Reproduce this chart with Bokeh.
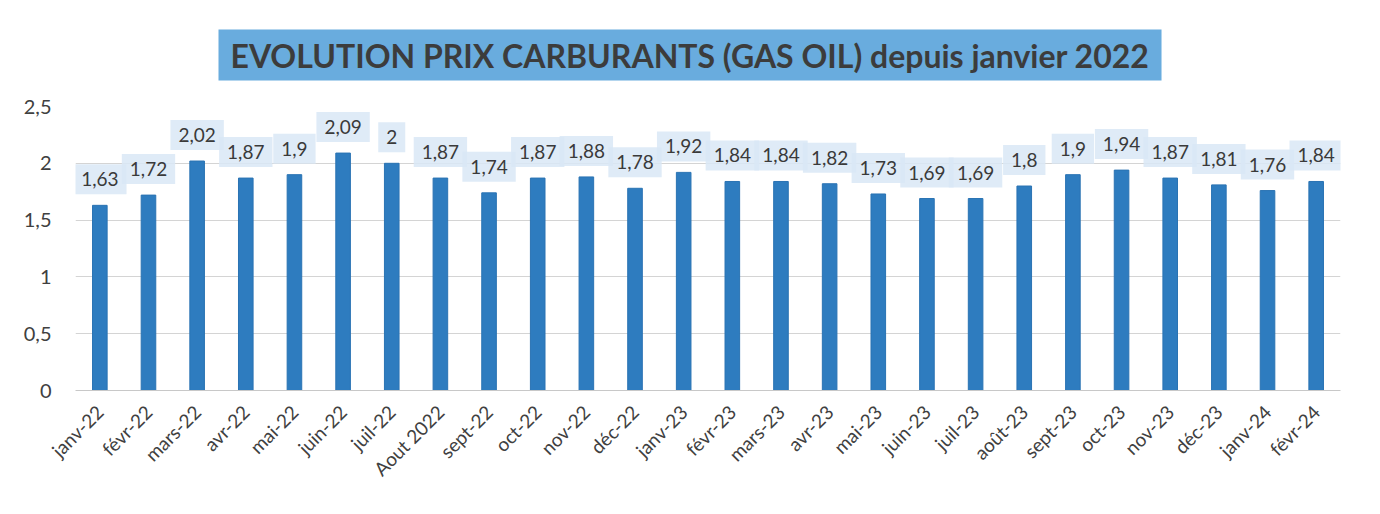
import math
from bokeh.plotting import figure
from bokeh.models import ColumnDataSource, CustomJSTickFormatter, FactorRange
from bokeh.core.properties import value
from bokeh.embed import file_html
from bokeh.resources import INLINE

title_text = "EVOLUTION PRIX CARBURANTS (GAS OIL) depuis janvier 2022"
months = ["janv-22", "févr-22", "mars-22", "avr-22", "mai-22", "juin-22", "juil-22",
          "Aout 2022", "sept-22", "oct-22", "nov-22", "déc-22", "janv-23", "févr-23",
          "mars-23", "avr-23", "mai-23", "juin-23", "juil-23", "août-23", "sept-23",
          "oct-23", "nov-23", "déc-23", "janv-24", "févr-24"]
prices = [1.63, 1.72, 2.02, 1.87, 1.9, 2.09, 2, 1.87, 1.74, 1.87, 1.88, 1.78, 1.92,
          1.84, 1.84, 1.82, 1.73, 1.69, 1.69, 1.8, 1.9, 1.94, 1.87, 1.81, 1.76, 1.84]
y_ticks = [0, 0.5, 1, 1.5, 2, 2.5]

labels = [("%g" % v).replace(".", ",") for v in prices]
src = ColumnDataSource(dict(m=months, v=prices, lbl=labels))

FONT = "Lato"
p = figure(frame_width=1265, frame_height=284, x_range=FactorRange(*months), y_range=(0, 2.5),
           output_backend="svg", toolbar_location=None,
           min_border_left=75, min_border_right=28, min_border_top=106, min_border_bottom=10)
p.outline_line_color = None
p.background_fill_color = "white"
p.border_fill_color = "white"

p.title.text = title_text
p.title.align = "left"
p.title.offset = 143
p.title.text_font = FONT
p.title.text_font_size = "32px"
p.title.text_font_style = "bold"
p.title.text_color = "#3c3c3c"
p.title.background_fill_color = "#69ACDE"
p.title.padding = dict(left=12, right=12, top=6, bottom=6)
p.title.standoff = 52

p.vbar(x="m", top="v", width=0.3, source=src, fill_color="#2E7CBF",
       line_color="#2A73B3", line_width=1)

p.text(x="m", y="v", text="lbl", source=src, y_offset=-26,
       text_align="center", text_baseline="middle",
       text_font=value(FONT), text_font_size="19px", text_color="#3a3a3a",
       background_fill_color="#d9e8f6", background_fill_alpha=0.85,
       padding=8)

p.xgrid.grid_line_color = None
p.ygrid.grid_line_color = "#d4d4d4"
p.ygrid.grid_line_width = 1

p.yaxis.ticker = y_ticks
p.yaxis.formatter = CustomJSTickFormatter(code="return tick.toString().replace('.', ',');")
p.yaxis.axis_line_color = None
p.yaxis.major_tick_line_color = None
p.yaxis.minor_tick_line_color = None
p.yaxis.major_label_text_font = FONT
p.yaxis.major_label_text_font_size = "20px"
p.yaxis.major_label_text_color = "#404040"
p.yaxis.major_label_standoff = 18

p.xaxis.axis_line_color = "#c8c8c8"
p.xaxis.major_tick_line_color = None
p.xaxis.minor_tick_line_color = None
p.xaxis.major_label_orientation = math.pi / 4
p.xaxis.major_label_text_font = FONT
p.xaxis.major_label_text_font_size = "19px"
p.xaxis.major_label_text_color = "#404040"
p.xaxis.major_label_standoff = 12

open("out.html", "w").write(file_html(p, INLINE))
